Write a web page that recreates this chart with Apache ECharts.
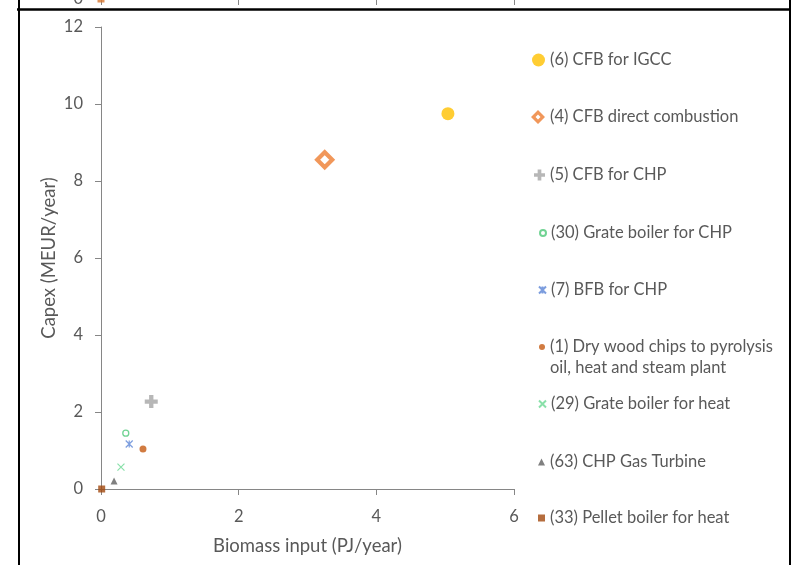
<!DOCTYPE html>
<html>
<head>
<meta charset="utf-8">
<script src="https://cdn.jsdelivr.net/npm/echarts@6/dist/echarts.min.js"></script>
<style>
  html, body { margin: 0; padding: 0; background: #fff; }
  #chart { width: 794px; height: 565px; }
</style>
</head>
<body>
<div id="chart"></div>
<script>
// Plant types (legend order) with biomass input and capital cost
const seriesNames = [
  '(6) CFB for IGCC',
  '(4) CFB direct combustion',
  '(5) CFB for CHP',
  '(30) Grate boiler for CHP',
  '(7) BFB for CHP',
  '(1) Dry wood chips to pyrolysis oil, heat and steam plant',
  '(29) Grate boiler for heat',
  '(63) CHP Gas Turbine',
  '(33) Pellet boiler for heat'
];
const biomassInput = [5.04, 3.25, 0.73, 0.36, 0.41, 0.61, 0.29, 0.19, 0.01]; // PJ/year
const capex = [9.75, 8.55, 2.27, 1.45, 1.17, 1.04, 0.57, 0.21, 0.0];         // MEUR/year

// Axis ranges / tick steps
const xTicks = [0, 2, 4, 6];
const yTicks = [0, 2, 4, 6, 8, 10, 12];

// Origin point of the panel above (only its lower edge shows)
const upperPanelX = [0];
const upperPanelY = [0];

const FONT = 'Lato';
const TEXT = '#595959';
const AXIS = '#868686';

// Marker styles per series
const plusPath = 'path://M4,0H8V4H12V8H8V12H4V8H0V4H4Z';
const crossPath = 'path://M0,0L10,10M10,0L0,10';
const starPath = 'path://M0,0L10,10M10,0L0,10M5,0L5,10';
const hollowDiamondPath = 'path://M7,0L14,7L7,14L0,7Z M7,4.5L4.5,7L7,9.5L9.5,7Z';
const markers = [
  { symbol: 'circle', size: 13, icon: 13, itemStyle: { color: '#FFC000' } },
  { symbol: 'diamond', size: 15, icon: 14, itemStyle: { color: '#ffffff', borderColor: '#ED7D31', borderWidth: 4.2 },
    legendIcon: hollowDiamondPath, legendStyle: { color: '#ED7D31', borderWidth: 0 } },
  { symbol: plusPath, size: 13, icon: 11, itemStyle: { color: '#A5A5A5' } },
  { symbol: 'circle', size: 6, icon: 6, itemStyle: { color: '#ffffff', borderColor: '#4DC878', borderWidth: 1.3 } },
  { symbol: starPath, size: 7, icon: 7, itemStyle: { color: 'rgba(0,0,0,0)', borderColor: '#5B85D6', borderWidth: 1.2 } },
  { symbol: 'circle', size: 7, icon: 6, itemStyle: { color: '#C55A11' } },
  { symbol: crossPath, size: 7, icon: 7, itemStyle: { color: 'rgba(0,0,0,0)', borderColor: '#6BD893', borderWidth: 1.2 } },
  { symbol: 'triangle', size: 7, icon: 7, itemStyle: { color: '#606060' } },
  { symbol: 'rect', size: 7, icon: 7, itemStyle: { color: '#A3490E' } }
];

// Legend layout: vertical centre of each entry
const legendCenters = [60, 117, 175, 233, 290, 347, 404, 462, 518];
const legendTextX = 550;
const LEGEND_LH = 21;

const chart = echarts.init(document.getElementById('chart'), null, { renderer: 'canvas' });

const series = seriesNames.map((name, i) => ({
  name: name,
  type: 'scatter',
  xAxisIndex: 0,
  yAxisIndex: 0,
  symbol: markers[i].symbol,
  symbolSize: markers[i].size,
  itemStyle: markers[i].itemStyle,
  data: [[biomassInput[i], capex[i]]],
  z: 10 - i
}));

series.push({
  name: 'upper panel',
  type: 'scatter',
  xAxisIndex: 1,
  yAxisIndex: 1,
  symbol: 'rect',
  symbolSize: 7,
  itemStyle: { color: '#D9772E' },
  data: upperPanelX.map((x, i) => [x, upperPanelY[i]])
});

// One legend block per entry; the long name wraps after "pyrolysis",
// with a blank leading line so the marker sits beside the first line.
const legends = seriesNames.map((name, i) => {
  const twoLine = name.indexOf('pyrolysis ') > -1;
  const leg = {
    data: markers[i].legendIcon ? [{ name: name, icon: markers[i].legendIcon }] : [name],
    orient: 'vertical',
    left: legendTextX - 5 - markers[i].icon,
    top: legendCenters[i] - (twoLine ? LEGEND_LH * 1.5 : LEGEND_LH / 2),
    itemWidth: markers[i].icon,
    itemHeight: markers[i].icon,
    itemGap: 0,
    padding: 0,
    selectedMode: false,
    textStyle: { fontFamily: FONT, fontSize: 16.5, color: TEXT, lineHeight: LEGEND_LH },
    formatter: n => twoLine ? '\u200b\n' + n.replace('pyrolysis ', 'pyrolysis\n') : n
  };
  if (markers[i].legendStyle) leg.itemStyle = markers[i].legendStyle;
  return leg;
});

const axisLabelStyle = { fontFamily: FONT, fontSize: 16.5, color: TEXT };
const titleStyle = { fontFamily: FONT, fontSize: 18.5, color: TEXT };

const option = {
  animation: false,
  backgroundColor: '#ffffff',
  grid: [
    { left: 101, right: 280, top: 27, bottom: 76, outerBoundsMode: 'none' },
    { left: 101, right: 280, top: -101, height: 100, outerBoundsMode: 'none' }
  ],
  xAxis: [
    {
      gridIndex: 0,
      type: 'value',
      min: xTicks[0],
      max: xTicks[xTicks.length - 1],
      interval: xTicks[1] - xTicks[0],
      name: 'Biomass input (PJ/year)',
      nameLocation: 'middle',
      nameGap: 48,
      nameTextStyle: titleStyle,
      axisLine: { onZero: false, lineStyle: { color: AXIS, width: 1 } },
      axisTick: { show: true, inside: false, length: 6, lineStyle: { color: AXIS } },
      axisLabel: Object.assign({ margin: 19 }, axisLabelStyle),
      splitLine: { show: false }
    },
    {
      gridIndex: 1,
      type: 'value',
      min: xTicks[0],
      max: xTicks[xTicks.length - 1],
      interval: xTicks[1] - xTicks[0],
      axisLine: { onZero: false, lineStyle: { color: AXIS, width: 1 } },
      axisTick: { show: true, inside: false, length: 6, lineStyle: { color: AXIS } },
      axisLabel: { show: false },
      splitLine: { show: false }
    }
  ],
  yAxis: [
    {
      gridIndex: 0,
      type: 'value',
      min: yTicks[0],
      max: yTicks[yTicks.length - 1],
      interval: yTicks[1] - yTicks[0],
      name: 'Capex (MEUR/year)',
      nameLocation: 'middle',
      nameGap: 42,
      nameMoveOverlap: false,
      nameTextStyle: titleStyle,
      axisLine: { show: true, onZero: false, lineStyle: { color: AXIS, width: 1 } },
      axisTick: { show: true, inside: false, length: 6, lineStyle: { color: AXIS } },
      axisLabel: Object.assign({ margin: 18 }, axisLabelStyle),
      splitLine: { show: false }
    },
    {
      gridIndex: 1,
      type: 'value',
      min: 0,
      max: 12,
      interval: 2,
      axisLine: { show: true, onZero: false, lineStyle: { color: AXIS, width: 1 } },
      axisTick: { show: true, inside: false, length: 6, lineStyle: { color: AXIS } },
      axisLabel: Object.assign({ margin: 18, showMinLabel: true }, axisLabelStyle),
      splitLine: { show: false }
    }
  ],
  legend: legends,
  series: series,
  graphic: [
    // outer frame: black border around the panel
    { type: 'line', z: 100, shape: { x1: 19, y1: 0, x2: 19, y2: 565 }, style: { stroke: '#000', lineWidth: 2 } },
    { type: 'line', z: 100, shape: { x1: 790, y1: 0, x2: 790, y2: 565 }, style: { stroke: '#000', lineWidth: 2 } },
    { type: 'line', z: 100, shape: { x1: 17, y1: 9.5, x2: 791, y2: 9.5 }, style: { stroke: '#000', lineWidth: 2.5 } }
  ]
};

chart.setOption(option);
</script>
</body>
</html>
